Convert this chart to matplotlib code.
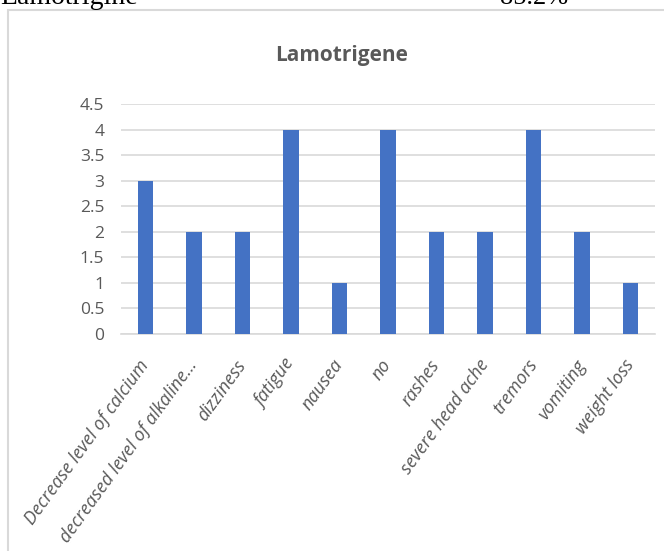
import matplotlib.pyplot as plt
from matplotlib.patches import Rectangle

# side effects reported by patients on lamotrigine
symptoms = ["Decrease level of calcium", "decreased level of alkaline...",
            "dizziness", "fatigue", "nausea", "no", "rashes",
            "severe head ache", "tremors", "vomiting", "weight loss"]
counts = [3, 2, 2, 4, 1, 4, 2, 2, 4, 2, 1]
y_ticks = [0, 0.5, 1, 1.5, 2, 2.5, 3, 3.5, 4, 4.5]

blue = "#4472C4"
grey_text = "#595959"
grid_grey = "#D9D9D9"

fig = plt.figure(figsize=(6.64, 5.51), dpi=100)

# page text sitting above the chart frame
fig.text(0.0, 1 - 4 / 551, "Lamotrigine", family="Liberation Serif",
         fontsize=20, va="baseline", ha="left")
fig.text(500 / 664, 1 - 4 / 551, "85.2%", family="Liberation Serif",
         fontsize=19, va="baseline", ha="left")

# chart frame
fig.patches.append(Rectangle((8 / 664, -0.05), 1.0, 1 - 10 / 551 + 0.05,
                             transform=fig.transFigure, facecolor="white",
                             edgecolor=grid_grey, linewidth=1.5, zorder=-1))

ax = fig.add_axes([121 / 664, 1 - 334 / 551, (655 - 121) / 664, (334 - 104) / 551])
ax.set_zorder(2)
ax.patch.set_alpha(0)
x = range(len(symptoms))
ax.bar(x, counts, width=0.32, color=blue, zorder=3)

ax.set_xlim(-0.5, len(symptoms) - 0.5)
ax.set_ylim(0, 4.5)
ax.set_yticks(y_ticks)
ax.set_yticklabels([f"{t:g}" for t in y_ticks], family="Open Sans",
                   fontsize=12.5, color=grey_text)
ax.yaxis.grid(True, color=grid_grey, linewidth=1.2, zorder=0)
ax.tick_params(axis="y", length=0, pad=12)
ax.tick_params(axis="x", length=0, pad=20)

ax.set_xticks(list(x))
ax.set_xticklabels(symptoms, rotation=54, ha="right", va="center",
                   rotation_mode="anchor", family="Open Sans",
                   style="italic", fontsize=13, color=grey_text)

for side in ["top", "right", "left"]:
    ax.spines[side].set_visible(False)
ax.spines["bottom"].set_color(grid_grey)
ax.spines["bottom"].set_linewidth(1.2)

fig.text(342 / 664, 1 - 55 / 551, "Lamotrigene", family="Open Sans",
         fontsize=15, fontweight="bold", color=grey_text,
         ha="center", va="center", zorder=3)

fig.savefig("out.png", dpi=100)
